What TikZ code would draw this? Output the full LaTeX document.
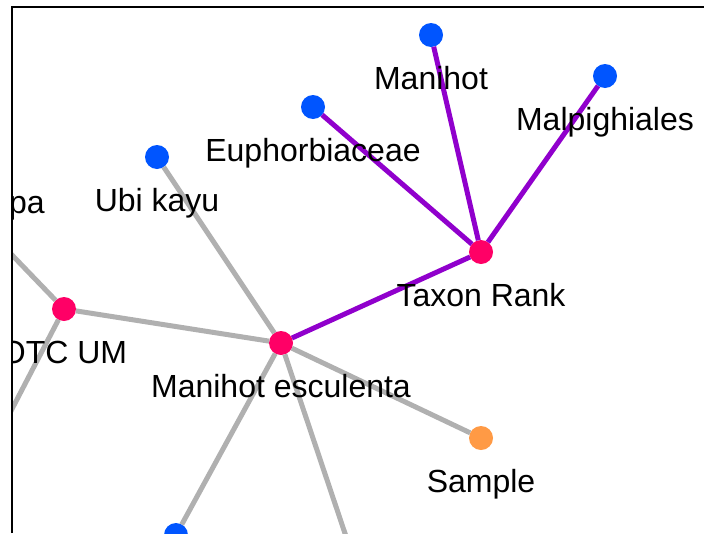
\documentclass[tikz,border=0pt]{standalone}
\usepackage{fontspec}
\setmainfont{Liberation Sans}

\definecolor{leafblue}{HTML}{0055FF}
\definecolor{hubpink}{HTML}{FF0066}
\definecolor{sampleorange}{HTML}{FF9A45}
\definecolor{linkgray}{HTML}{B0B0B0}
\definecolor{rankpurple}{HTML}{9000CC}

\begin{document}
\begin{tikzpicture}[x=1pt,y=1pt,
    dot/.style={circle, inner sep=0pt, outer sep=0pt, minimum size=24pt},
    leaf/.style={dot, fill=leafblue},
    hub/.style={dot, fill=hubpink},
    sample/.style={dot, fill=sampleorange},
    lab/.style={font=\fontsize{32}{36}\selectfont, anchor=base, inner sep=0pt},
    link/.style={draw=linkgray, line width=5pt},
    rank/.style={draw=rankpurple, line width=5pt}]
  \useasboundingbox (0,0) rectangle (704,-533);

  \begin{scope}
    \clip (12,-6) rectangle (704,-533);

    % taxon side
    \node[leaf] (manihot) at (431,-35) {};
    \node[leaf] (malpighiales) at (605,-76) {};
    \node[leaf] (euphorbiaceae) at (313,-107) {};
    \node[hub] (taxonrank) at (481,-252) {};

    % sample side
    \node[leaf] (ubikayu) at (157,-157) {};
    \node[hub] (esculenta) at (281,-343) {};
    \node[hub] (otcum) at (64,-309) {};
    \node[sample] (sample) at (481,-438) {};
    \node[leaf] (lowleaf) at (176,-535) {};

    % ends outside the frame
    \coordinate (west) at (-90,-149);
    \coordinate (southwest) at (-40,-509);
    \coordinate (south) at (360,-578);

    \draw[rank] (taxonrank) -- (manihot);
    \draw[rank] (taxonrank) -- (malpighiales);
    \draw[rank] (taxonrank) -- (euphorbiaceae);
    \draw[rank] (taxonrank) -- (esculenta);

    \draw[link] (esculenta) -- (ubikayu);
    \draw[link] (esculenta) -- (otcum);
    \draw[link] (esculenta) -- (sample);
    \draw[link] (esculenta) -- (lowleaf);
    \draw[link] (esculenta) -- (south);
    \draw[link] (otcum) -- (west);
    \draw[link] (otcum) -- (southwest);

    % labels
    \node[lab] (manihot-l) at ([yshift=-54pt]manihot) {Manihot};
    \node[lab] (malpighiales-l) at ([yshift=-54pt]malpighiales) {Malpighiales};
    \node[lab] (euphorbiaceae-l) at ([yshift=-54pt]euphorbiaceae) {Euphorbiaceae};
    \node[lab] (taxonrank-l) at ([yshift=-54pt]taxonrank) {Taxon Rank};
    \node[lab] (ubikayu-l) at ([yshift=-54pt]ubikayu) {Ubi kayu};
    \node[lab] (esculenta-l) at ([yshift=-54pt]esculenta) {Manihot esculenta};
    \node[lab] (otcum-l) at ([yshift=-54pt]otcum) {OTC UM};
    \node[lab] (sample-l) at ([yshift=-54pt]sample) {Sample};
    \node[lab, anchor=base east] (west-l) at (45,-213) {pa};
  \end{scope}

  \draw[line width=2pt] (12.2,-533) -- (12.2,-6.5) -- (704,-6.5);
\end{tikzpicture}
\end{document}
